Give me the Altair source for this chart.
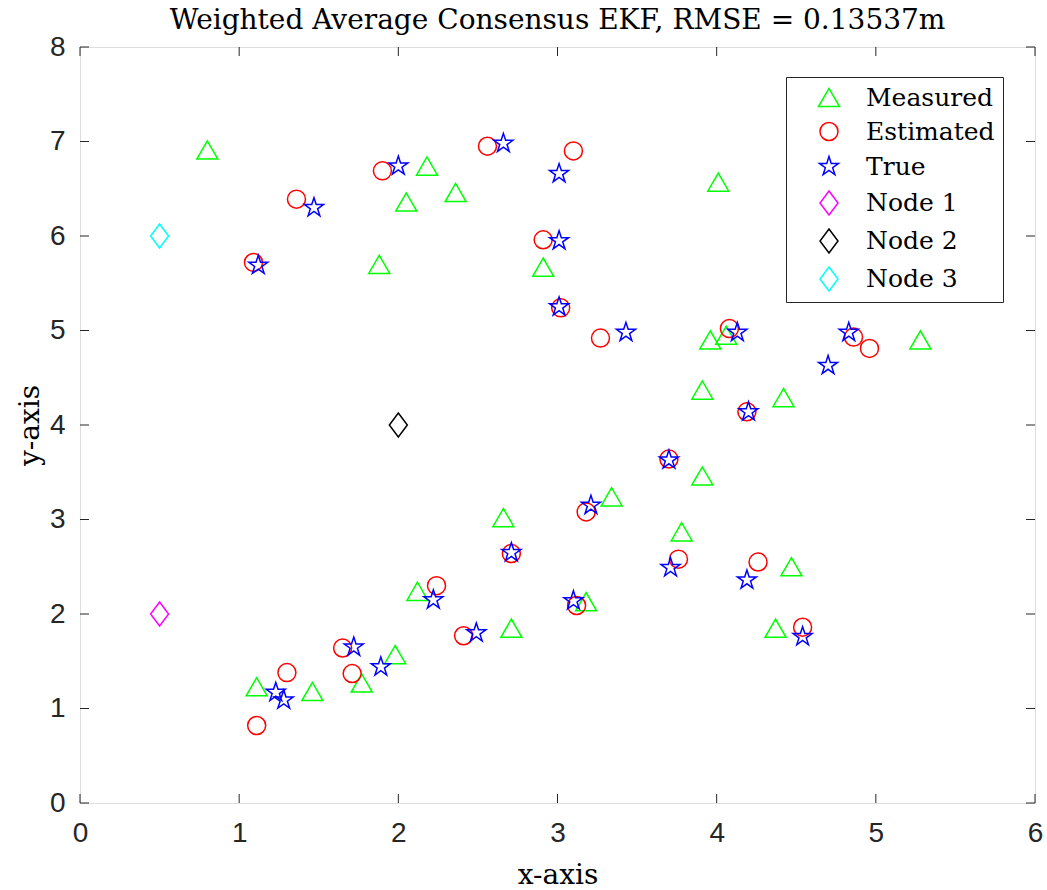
import math
import pandas as pd
import altair as alt

# ---------------- data ----------------
meas_x = [0.80, 2.18, 2.36, 2.05, 1.88, 4.01, 2.91, 3.96, 4.06, 5.28, 3.91, 4.42, 3.91,
          3.34, 2.66, 3.78, 4.47, 2.12, 3.18, 2.71, 4.37, 1.98, 1.11, 1.46, 1.77]
meas_y = [6.91, 6.74, 6.46, 6.36, 5.70, 6.57, 5.67, 4.90, 4.95, 4.90, 4.37, 4.29, 3.46,
          3.24, 3.02, 2.87, 2.50, 2.24, 2.13, 1.85, 1.85, 1.57, 1.23, 1.18, 1.27]

est_x = [1.90, 1.36, 1.09, 2.56, 3.10, 2.91, 3.02, 3.27, 4.08, 4.86, 4.96, 4.19, 3.70,
         3.18, 2.71, 2.24, 3.12, 3.76, 4.26, 4.54, 2.41, 1.65, 1.71, 1.30, 1.11]
est_y = [6.69, 6.39, 5.72, 6.95, 6.90, 5.96, 5.24, 4.92, 5.02, 4.93, 4.81, 4.14, 3.64,
         3.08, 2.64, 2.30, 2.09, 2.58, 2.55, 1.86, 1.77, 1.64, 1.37, 1.38, 0.82]

true_x = [2.00, 1.47, 1.12, 2.66, 3.01, 3.01, 3.01, 3.43, 4.13, 4.83, 4.70, 4.20, 3.70,
          3.21, 2.71, 2.22, 3.10, 3.71, 4.19, 4.54, 2.49, 1.72, 1.89, 1.23, 1.28]
true_y = [6.74, 6.30, 5.69, 6.98, 6.66, 5.95, 5.25, 4.98, 4.98, 4.98, 4.63, 4.14, 3.63,
          3.15, 2.65, 2.15, 2.14, 2.49, 2.36, 1.76, 1.80, 1.65, 1.44, 1.17, 1.09]

node_x = [0.5, 2.0, 0.5]
node_y = [2.0, 4.0, 6.0]
node_names = ["Node 1", "Node 2", "Node 3"]

categories = ["Measured", "Estimated", "True", "Node 1", "Node 2", "Node 3"]
colors = ["#00FF00", "#FF0000", "#0000FF", "#FF00FF", "#000000", "#00FFFF"]

x_ticks = [0, 1, 2, 3, 4, 5, 6]
y_ticks = [0, 1, 2, 3, 4, 5, 6, 7, 8]

title_text = "Weighted Average Consensus EKF, RMSE = 0.13537m"

# ---------------- marker shapes ----------------
star_pts = []
for k in range(10):
    r = 1.0 if k % 2 == 0 else 0.382
    a = math.radians(-90 + 36 * k)
    star_pts.append(f"{r * math.cos(a):.4f},{r * math.sin(a):.4f}")
star_path = "M" + " L".join(star_pts) + " Z"
diamond_path = "M0,-1 L0.75,0 L0,1 L-0.75,0 Z"
shapes = ["triangle-up", "circle", star_path, diamond_path, diamond_path, diamond_path]
sizes = [441, 324, 400, 576, 576, 576]

# ---------------- table ----------------
rows = []
for x, y in zip(meas_x, meas_y):
    rows.append({"x": x, "y": y, "type": "Measured"})
for x, y in zip(est_x, est_y):
    rows.append({"x": x, "y": y, "type": "Estimated"})
for x, y in zip(true_x, true_y):
    rows.append({"x": x, "y": y, "type": "True"})
for x, y, n in zip(node_x, node_y, node_names):
    rows.append({"x": x, "y": y, "type": n})
df = pd.DataFrame(rows)

W, H = 955, 756
TL = 9  # tick length

xscale = alt.Scale(domain=[0, 6], nice=False, zero=False)
yscale = alt.Scale(domain=[0, 8], nice=False, zero=False)

xaxis = alt.Axis(
    values=x_ticks, ticks=False, tickSize=0, domain=False, grid=False,
    labelFlush=False,
    labelFont="Liberation Sans", labelFontSize=28, labelColor="#262626",
    labelPadding=16, title="x-axis", titleFont="DejaVu Serif",
    titleFontSize=28, titleFontWeight="normal", titleColor="black",
    titlePadding=14)
yaxis = alt.Axis(
    values=y_ticks, ticks=False, tickSize=0, domain=False, grid=False,
    labelFlush=False,
    labelFont="Liberation Sans", labelFontSize=28, labelColor="#262626",
    labelPadding=15, title="y-axis", titleFont="DejaVu Serif",
    titleFontSize=28, titleFontWeight="normal", titleColor="black",
    titlePadding=5)

legend = alt.Legend(
    orient="none", legendX=706, legendY=30,
    strokeColor="#262626", fillColor="white", padding=8,
    rowPadding=8, symbolOffset=22, labelOffset=24,
    labelFont="DejaVu Serif", labelFontSize=25, labelColor="black",
    labelLimit=400, symbolStrokeWidth=1.5,
)

points = alt.Chart(df).mark_point(filled=False, strokeWidth=1.5, opacity=1).encode(
    x=alt.X("x:Q", scale=xscale, axis=xaxis),
    y=alt.Y("y:Q", scale=yscale, axis=yaxis),
    color=alt.Color("type:N", title=None, sort=categories,
                    scale=alt.Scale(domain=categories, range=colors), legend=legend),
    shape=alt.Shape("type:N", title=None, sort=categories,
                    scale=alt.Scale(domain=categories, range=shapes), legend=legend),
    size=alt.Size("type:N", title=None, sort=categories,
                  scale=alt.Scale(type="ordinal", domain=categories, range=sizes),
                  legend=legend),
)

xt = pd.DataFrame({"v": x_ticks})
yt = pd.DataFrame({"v": y_ticks})
tick_color = "#262626"

bottom_ticks = alt.Chart(xt).mark_rule(color=tick_color, strokeWidth=1).encode(
    x=alt.X("v:Q", scale=xscale, axis=xaxis), y=alt.value(H), y2=alt.value(H - TL))
top_ticks = alt.Chart(xt).mark_rule(color=tick_color, strokeWidth=1).encode(
    x=alt.X("v:Q", scale=xscale, axis=xaxis), y=alt.value(0), y2=alt.value(TL))
left_ticks = alt.Chart(yt).mark_rule(color=tick_color, strokeWidth=1).encode(
    y=alt.Y("v:Q", scale=yscale, axis=yaxis), x=alt.value(0), x2=alt.value(TL))
right_ticks = alt.Chart(yt).mark_rule(color=tick_color, strokeWidth=1).encode(
    y=alt.Y("v:Q", scale=yscale, axis=yaxis), x=alt.value(W), x2=alt.value(W - TL))

chart = alt.layer(points, bottom_ticks, top_ticks, left_ticks, right_ticks).properties(
    width=W, height=H,
    title=alt.TitleParams(text=title_text, font="DejaVu Serif", fontSize=28,
                          fontWeight="normal", color="black", anchor="middle", offset=-2),
    autosize=alt.AutoSizeParams(type="none"),
    padding={"left": 80, "top": 47, "right": 12, "bottom": 87},
).configure_view(stroke="#262626", strokeWidth=1).configure(background="white")

chart.save("out.html", embed_options={"renderer": "svg", "actions": False})
